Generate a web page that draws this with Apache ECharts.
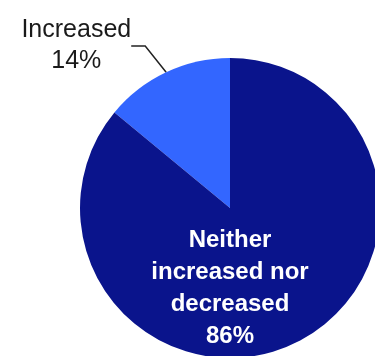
<!DOCTYPE html>
<html>
<head>
<meta charset="utf-8">
<script src="https://cdn.jsdelivr.net/npm/echarts@6/dist/echarts.min.js"></script>
<style>
  html, body { margin: 0; padding: 0; background: #fff; }
  #chart { width: 375px; height: 356px; }
</style>
</head>
<body>
<div id="chart"></div>
<script>
// slice names and shares (%)
var sliceNames = ['Increased', 'Neither\nincreased nor\ndecreased'];
var sliceValues = [14, 86];
var sliceColors = ['#3366ff', '#0a148c'];

var chart = echarts.init(document.getElementById('chart'));

var pieData = sliceNames.map(function (name, i) {
  var item = {
    name: name,
    value: sliceValues[i],
    itemStyle: { color: sliceColors[i] }
  };
  if (i === 1) {
    // big slice: label sits inside, white text
    item.label = {
      position: 'center',
      color: '#fff',
      fontSize: 24,
      lineHeight: 32,
      fontWeight: 'bold'
    };
    item.labelLine = { show: false };
  }
  return item;
});

var option = {
  animation: false,
  series: [
    {
      type: 'pie',
      center: [230, 208],
      radius: 150,
      startAngle: 90,
      clockwise: false,
      data: pieData,
      label: {
        show: true,
        position: 'outside',
        formatter: function (p) { return p.name + '\n' + p.value + '%'; },
        fontFamily: 'Liberation Sans, Arial, sans-serif',
        fontSize: 25,
        lineHeight: 31,
        color: '#1a1a1a'
      },
      labelLine: {
        show: true,
        length: 28,
        length2: 14,
        lineStyle: { color: '#222', width: 1.5 }
      },
      labelLayout: function (params) {
        if (params.dataIndex === 1) {
          return { dy: 80 };
        }
        // center the two lines of the outside label
        return {
          x: params.labelRect.x + params.labelRect.width / 2 - 4,
          dy: -1,
          align: 'center'
        };
      },
      emphasis: { disabled: true }
    }
  ]
};

chart.setOption(option);
</script>
</body>
</html>
